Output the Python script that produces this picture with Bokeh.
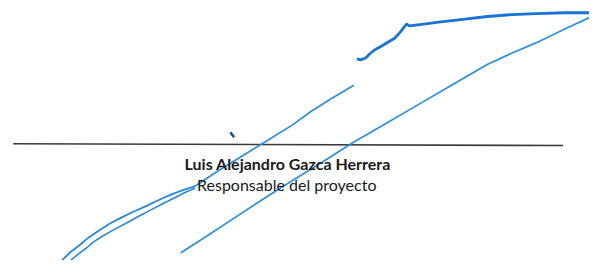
from bokeh.plotting import figure
from bokeh.embed import file_html
from bokeh.resources import INLINE
from bokeh.core.properties import value
from bokeh.models import Range1d

# Signature line and labels
rule_x = [13, 578]
rule_y = [152, 154]
name_label = "Luis Alejandro Gazca Herrera"
role_label = "Responsable del proyecto"

# Signature strokes (page coordinates, y grows downward)
top_x = [366, 370, 375, 380, 385, 392, 400, 405, 411, 417, 420, 435, 450, 475, 500, 525, 550, 580, 605]
top_y = [62, 63, 61, 56, 52, 48, 43, 40, 33, 25, 27, 25, 23, 20, 17, 15, 14, 13, 13]

right_x = [605, 578, 550, 525, 500, 465, 430, 395, 360, 330, 297, 268, 240, 212, 185]
right_y = [18, 31, 45, 56, 68, 89, 110, 131, 152, 172, 193, 212, 231, 250, 268]

left_x = [363, 340, 320, 300, 275, 250, 225, 200]
left_y = [90, 104, 117, 132, 148, 164, 180, 197]

loop1_x = [200, 188, 175, 162, 150, 137, 125, 112, 100, 90, 82, 72, 63]
loop1_y = [197, 201, 206, 212, 218, 224, 230, 237, 245, 252, 259, 267, 276]

loop2_x = [200, 189, 178, 166, 155, 142, 130, 117, 105, 96, 88, 80, 72]
loop2_y = [199, 204, 210, 216, 222, 229, 236, 243, 250, 256, 263, 269, 276]

dot_x = [236, 240]
dot_y = [140, 145]

p = figure(width=589, height=260, output_backend="svg", toolbar_location=None,
           x_range=Range1d(0, 605), y_range=Range1d(276, 0),
           min_border=0, border_fill_color="white", background_fill_color="white",
           outline_line_color=None)
p.axis.visible = False
p.grid.visible = False

p.line(rule_x, rule_y, line_color="#3a3a3a", line_width=1.6)

p.line(right_x, right_y, line_color="#2b8fd9", line_width=1.7)
p.line(left_x, left_y, line_color="#2b8fd9", line_width=1.7)
p.line(loop1_x, loop1_y, line_color="#2a87d6", line_width=1.8)
p.line(loop2_x, loop2_y, line_color="#2a87d6", line_width=1.6)
p.line(top_x, top_y, line_color="#1a72d2", line_width=2.8)
p.line(dot_x, dot_y, line_color="#1f4f8f", line_width=2.5)

p.text(x=[295], y=[173], text=[name_label], text_align="center", text_baseline="alphabetic",
       text_font=value("Lato"), text_font_style="bold", text_font_size="16px", text_color="#1a1a1a")
p.text(x=[294], y=[195], text=[role_label], text_align="center", text_baseline="alphabetic",
       text_font=value("Lato"), text_font_size="16px", text_color="#1a1a1a")

open("out.html", "w").write(file_html(p, INLINE))
